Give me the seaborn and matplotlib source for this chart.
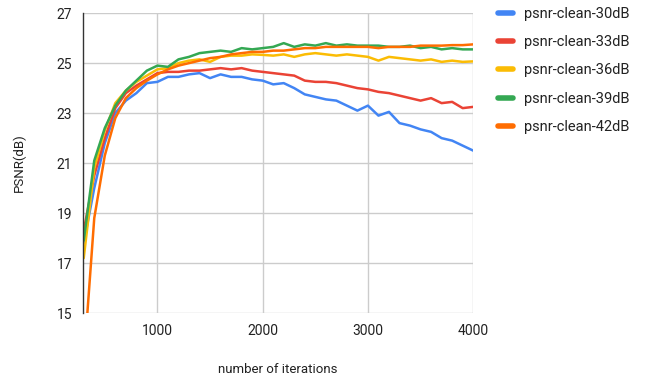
import pandas as pd
import matplotlib.pyplot as plt
import seaborn as sns

iterations = list(range(300, 4001, 100))

psnr_30 = [17.8, 20.0, 21.8, 23.0, 23.5, 23.8, 24.2, 24.25, 24.45, 24.45,
           24.55, 24.6, 24.4, 24.55, 24.45, 24.45, 24.35, 24.3, 24.15, 24.2,
           24.0, 23.75, 23.65, 23.55, 23.5, 23.3, 23.1, 23.3, 22.9, 23.05,
           22.6, 22.5, 22.35, 22.25, 22.0, 21.9, 21.7, 21.5]
psnr_33 = [18.3, 20.5, 22.0, 23.2, 23.8, 24.1, 24.35, 24.6, 24.65, 24.65,
           24.7, 24.7, 24.75, 24.8, 24.75, 24.8, 24.7, 24.65, 24.6, 24.55,
           24.5, 24.3, 24.25, 24.25, 24.2, 24.1, 24.0, 23.95, 23.85, 23.8,
           23.7, 23.6, 23.5, 23.6, 23.4, 23.45, 23.2, 23.25]
psnr_36 = [17.2, 20.8, 22.3, 23.4, 23.9, 24.25, 24.5, 24.75, 24.8, 25.0,
           25.1, 25.15, 25.05, 25.25, 25.3, 25.3, 25.35, 25.33, 25.3, 25.35,
           25.25, 25.35, 25.4, 25.35, 25.3, 25.35, 25.3, 25.25, 25.1, 25.25,
           25.2, 25.15, 25.1, 25.15, 25.05, 25.1, 25.05, 25.07]
psnr_39 = [17.9, 21.1, 22.4, 23.3, 23.9, 24.3, 24.7, 24.9, 24.85, 25.15,
           25.25, 25.4, 25.45, 25.5, 25.45, 25.6, 25.55, 25.6, 25.65, 25.8,
           25.65, 25.75, 25.7, 25.8, 25.7, 25.75, 25.7, 25.7, 25.7, 25.65,
           25.65, 25.7, 25.6, 25.65, 25.55, 25.6, 25.55, 25.55]
psnr_42 = [13.0, 18.8, 21.3, 22.8, 23.6, 24.0, 24.3, 24.55, 24.75, 24.9,
           25.0, 25.1, 25.2, 25.25, 25.35, 25.4, 25.45, 25.45, 25.5, 25.5,
           25.55, 25.6, 25.6, 25.65, 25.65, 25.65, 25.65, 25.65, 25.6, 25.65,
           25.65, 25.65, 25.7, 25.7, 25.7, 25.72, 25.72, 25.75]

names = ['psnr-clean-30dB', 'psnr-clean-33dB', 'psnr-clean-36dB',
         'psnr-clean-39dB', 'psnr-clean-42dB']
colors = ['#4285F4', '#EA4335', '#FBBC04', '#34A853', '#FF6D01']

frames = []
for name, vals in zip(names, [psnr_30, psnr_33, psnr_36, psnr_39, psnr_42]):
    frames.append(pd.DataFrame({'iter': iterations, 'psnr': vals, 'series': name}))
df = pd.concat(frames)

sns.set_style('white')
plt.rcParams['font.family'] = ['Roboto', 'DejaVu Sans']

fig = plt.figure(figsize=(6.5, 3.75), dpi=100)
ax = fig.add_axes([0.128, 0.165, 0.6, 0.8])

sns.lineplot(data=df, x='iter', y='psnr', hue='series', palette=colors,
             linewidth=1.8, ax=ax)

ax.set_xlim(295, 4000)
ax.set_ylim(15, 27)
ax.set_xticks([1000, 2000, 3000, 4000])
ax.set_yticks([15, 17, 19, 21, 23, 25, 27])
ax.grid(True, color='#cccccc', linewidth=1)
ax.set_axisbelow(True)
ax.tick_params(length=0, labelsize=10, labelcolor='#222222', pad=8)

for s in ['top', 'right', 'bottom']:
    ax.spines[s].set_visible(False)
ax.spines['left'].set_color('#333333')
ax.spines['left'].set_linewidth(1)

ax.set_xlabel('number of iterations', fontsize=9.5, color='#222222', labelpad=18)
ax.set_ylabel('PSNR(dB)', fontsize=9.5, color='#222222', labelpad=22)

leg = ax.legend(loc='upper left', bbox_to_anchor=(1.03, 1.065), frameon=False,
                fontsize=10.5, handlelength=1.0, handletextpad=0.8,
                labelspacing=0.98, labelcolor='#222222')
for line in leg.get_lines():
    line.set_linewidth(4)

fig.savefig('out.png', dpi=100)
